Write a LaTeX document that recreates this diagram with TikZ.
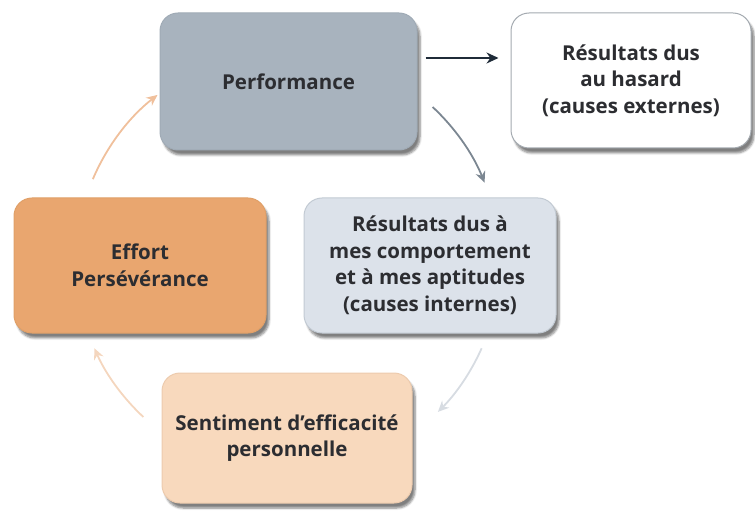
\documentclass[tikz,border=0pt]{standalone}
\usepackage{fontspec}
\setmainfont{Open Sans}
\usetikzlibrary{arrows.meta,shadows.blur}
\definecolor{txt}{HTML}{2C2D31}
\definecolor{perfc}{HTML}{A8B3BE}
\definecolor{perfd}{HTML}{A0ABB6}
\definecolor{hasd}{HTML}{A4AAB0}
\definecolor{effc}{HTML}{E9A66F}
\definecolor{effd}{HTML}{E0A068}
\definecolor{intc}{HTML}{DCE2EA}
\definecolor{intd}{HTML}{C2CAD3}
\definecolor{senc}{HTML}{F8D9BD}
\definecolor{send}{HTML}{EDCBAE}
\definecolor{arrA}{HTML}{1F2B38}
\definecolor{arrB}{HTML}{7C8792}
\definecolor{arrC}{HTML}{D7DCE2}
\definecolor{arrD}{HTML}{F4D6BE}
\definecolor{arrE}{HTML}{F0C09C}
\tikzset{
  box/.style={rounded corners=18pt, align=center, text=txt, font=\fontsize{20.5}{26.5}\selectfont\bfseries,
    line width=1pt, inner sep=0pt,
    blur shadow={shadow xshift=3pt, shadow yshift=-5pt, shadow blur steps=6, shadow opacity=50}},
  cyc/.style={line width=1.8pt, -{Stealth[length=11pt,width=10pt]}},
}
\begin{document}
\begin{tikzpicture}[x=1pt,y=1pt]
\useasboundingbox (0,0) rectangle (755,515);
\node[box, fill=perfc, draw=perfd, minimum width=257pt, minimum height=137pt] (perf) at (288.5,433.5) {Performance};
\node[box, fill=white, draw=hasd, minimum width=240pt, minimum height=135pt] (has) at (631,434.5) {Résultats dus\\au hasard\\(causes externes)};
\node[box, fill=effc, draw=effd, minimum width=252pt, minimum height=135pt] (eff) at (140,249.5) {Effort\\Persévérance};
\node[box, fill=intc, draw=intd, minimum width=252pt, minimum height=135pt] (int) at (430,249.5) {Résultats dus à\\mes comportement\\et à mes aptitudes\\(causes internes)};
\node[box, fill=senc, draw=send, minimum width=250pt, minimum height=130pt] (sen) at (287,77) {Sentiment d’efficacité\\personnelle};
\coordinate (c) at (288,253);
\draw[line width=2.2pt, arrA, -{Stealth[length=12pt,width=11pt]}, shorten <=8pt, shorten >=12pt]
  ([yshift=23.5pt]perf.east) -- ([yshift=22.5pt]has.west);
\draw[cyc, arrB] (c) ++(47:212) arc[start angle=47, end angle=22, radius=212];
\draw[cyc, arrC] (c) ++(-24:212) arc[start angle=-24, end angle=-45, radius=212];
\draw[cyc, arrD] (c) ++(-133:212) arc[start angle=-133, end angle=-156, radius=212];
\draw[cyc, arrE] (c) ++(157:212) arc[start angle=157, end angle=128, radius=212];
\end{tikzpicture}
\end{document}
